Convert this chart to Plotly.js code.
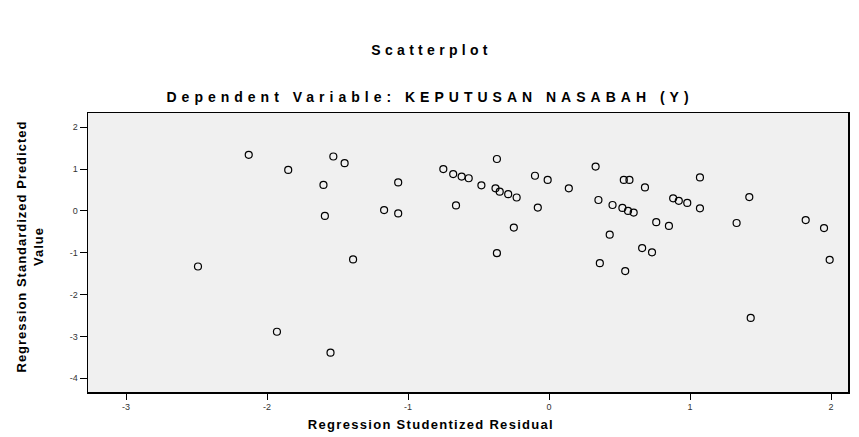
<!DOCTYPE html>
<html>
<head>
<meta charset="utf-8">
<script src="https://cdn.plot.ly/plotly-3.0.1.min.js"></script>
<style>html,body{margin:0;padding:0;background:#fff;}#chart{width:859px;height:437px;}</style>
</head>
<body>
<div id="chart"></div>
<script>
// Regression Studentized Residual (x) vs Regression Standardized Predicted Value (y)
const studentizedResidual = [
  -2.13, -1.85, -1.53, -1.45, -1.60, -1.07, -1.59, -1.17, -1.07, -1.39,
  -2.49, -1.93, -1.55, -0.37, -0.75, -0.68, -0.62, -0.57, -0.48, -0.38,
  -0.35, -0.29, -0.23, -0.66, -0.25, -0.37, -0.10, -0.01, -0.08, 0.14,
  0.33, 0.53, 0.57, 0.68, 1.07, 0.35, 0.45, 0.52, 0.56, 0.60,
  0.88, 0.92, 0.98, 1.07, 0.76, 0.85, 0.43, 0.66, 0.73, 0.36,
  0.54, 1.42, 1.33, 1.82, 1.95, 1.99, 1.43
];
const standardizedPredicted = [
  1.34, 0.98, 1.30, 1.14, 0.62, 0.68, -0.12, 0.02, -0.06, -1.16,
  -1.33, -2.89, -3.39, 1.24, 1.00, 0.88, 0.82, 0.78, 0.61, 0.54,
  0.46, 0.40, 0.32, 0.13, -0.40, -1.01, 0.84, 0.74, 0.08, 0.54,
  1.06, 0.74, 0.74, 0.56, 0.80, 0.26, 0.14, 0.07, 0.00, -0.04,
  0.30, 0.24, 0.19, 0.06, -0.27, -0.36, -0.57, -0.89, -0.99, -1.25,
  -1.44, 0.33, -0.29, -0.22, -0.41, -1.17, -2.56
];
const xTickVals = [-3, -2, -1, 0, 1, 2];
const yTickVals = [-4, -3, -2, -1, 0, 1, 2];
const chartTitle = 'Scatterplot';
const chartSubtitle = 'Dependent Variable: KEPUTUSAN NASABAH (Y)';
const xTitle = 'Regression Studentized Residual';
const yTitle = 'Regression Standardized Predicted<br>Value';

const FONT = 'Liberation Sans, Arial, sans-serif';

const trace = {
  type: 'scatter',
  mode: 'markers',
  x: studentizedResidual,
  y: standardizedPredicted,
  marker: {symbol: 'circle-open', size: 7, color: '#000', line: {width: 1.2, color: '#000'}},
  hoverinfo: 'x+y'
};

function ann(text, x, y, size, extra) {
  return Object.assign({
    text: '<b>' + text + '</b>', xref: 'paper', yref: 'paper', x: x, y: y,
    xanchor: 'center', yanchor: 'middle', showarrow: false,
    font: {family: FONT, size: size, color: '#000'}
  }, extra || {});
}

const layout = {
  width: 859, height: 437,
  margin: {l: 88, r: 11, t: 113, b: 45},
  paper_bgcolor: '#ffffff',
  plot_bgcolor: '#f0f0f0',
  showlegend: false,
  font: {family: FONT, color: '#000'},
  annotations: [
    ann(chartTitle, (431 - 88) / 760, (392 - 50) / 279, 14),
    ann(chartSubtitle, (430 - 88) / 760, (392 - 97) / 279, 14),
    ann(xTitle, (431 - 88) / 760, (392 - 424) / 279, 13),
    ann(yTitle, (30 - 88) / 760, (392 - 247) / 279, 13, {textangle: -90})
  ],
  xaxis: {
    range: [-3.27, 2.12], tickvals: xTickVals, ticktext: xTickVals.map(String),
    ticks: 'outside', ticklen: 6, tickwidth: 1, tickcolor: '#000',
    showgrid: false, zeroline: false, showline: true, linecolor: '#000', linewidth: 1.5, mirror: true,
    tickfont: {size: 9, color: '#333'}
  },
  yaxis: {
    range: [-4.33, 2.34], tickvals: yTickVals, ticktext: yTickVals.map(String),
    ticks: 'outside', ticklen: 7, tickwidth: 1, tickcolor: '#000',
    showgrid: false, zeroline: false, showline: true, linecolor: '#000', linewidth: 1.5, mirror: true,
    tickfont: {size: 9, color: '#333'}
  }
};

const spacing = ['4.3px', '5px', '1.3px', '1px'];
Plotly.newPlot('chart', [trace], layout, {staticPlot: true, displayModeBar: false}).then(function (gd) {
  spacing.forEach(function (s, i) {
    const t = gd.querySelector('.annotation[data-index="' + i + '"] text.annotation-text');
    if (t) t.style.letterSpacing = s;
  });
});
</script>
</body>
</html>
